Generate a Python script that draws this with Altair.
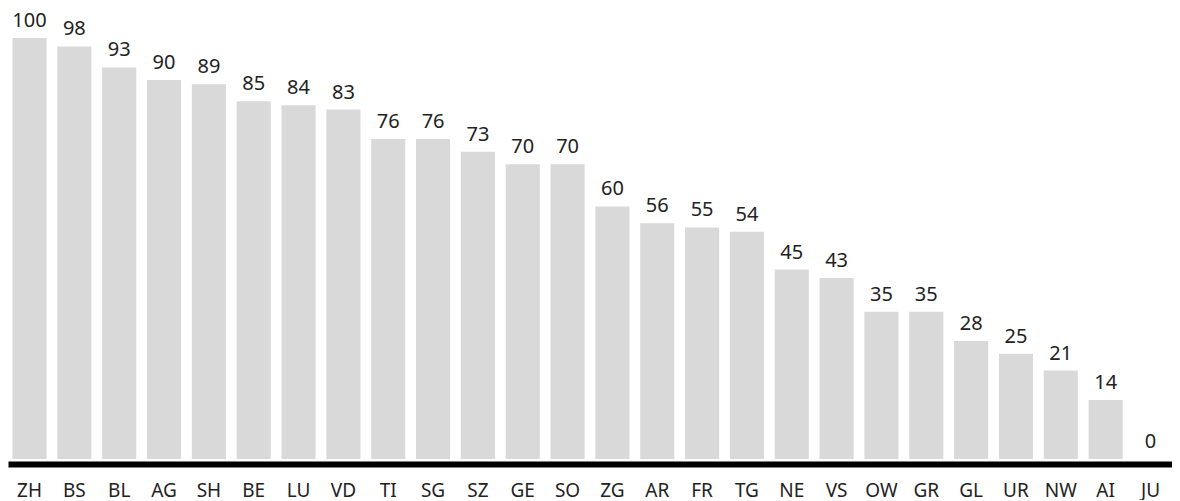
import altair as alt
import pandas as pd

cantons = ["ZH", "BS", "BL", "AG", "SH", "BE", "LU", "VD", "TI", "SG", "SZ", "GE", "SO",
           "ZG", "AR", "FR", "TG", "NE", "VS", "OW", "GR", "GL", "UR", "NW", "AI", "JU"]
values = [100, 98, 93, 90, 89, 85, 84, 83, 76, 76, 73, 70, 70,
          60, 56, 55, 54, 45, 43, 35, 35, 28, 25, 21, 14, 0]

df = pd.DataFrame({"canton": cantons, "value": values})

FONT = "Noto Sans"

x = alt.X("canton:N", sort=cantons, title=None,
          scale=alt.Scale(paddingInner=0.24, paddingOuter=0.1),
          axis=alt.Axis(labelAngle=0, ticks=False, domain=True, domainColor="#000000",
                        domainWidth=6, offset=5, labelPadding=17, labelFontSize=19,
                        labelFont=FONT, labelColor="#222222", grid=False))
y = alt.Y("value:Q", title=None, axis=None, scale=alt.Scale(domain=[0, 107.13], nice=False))

bars = alt.Chart(df).mark_bar(color="#d9d9d9").encode(x=x, y=y)
labels = alt.Chart(df).mark_text(baseline="alphabetic", dy=-11, fontSize=20, font=FONT,
                                 color="#222222").encode(x=x, y=y, text="value:Q")

chart = (bars + labels).properties(
    width=1164, height=451, padding=0, background="#ffffff"
).configure_view(strokeWidth=0, stroke="transparent")

chart.save("out.html", embed_options={"renderer": "svg", "actions": False})
